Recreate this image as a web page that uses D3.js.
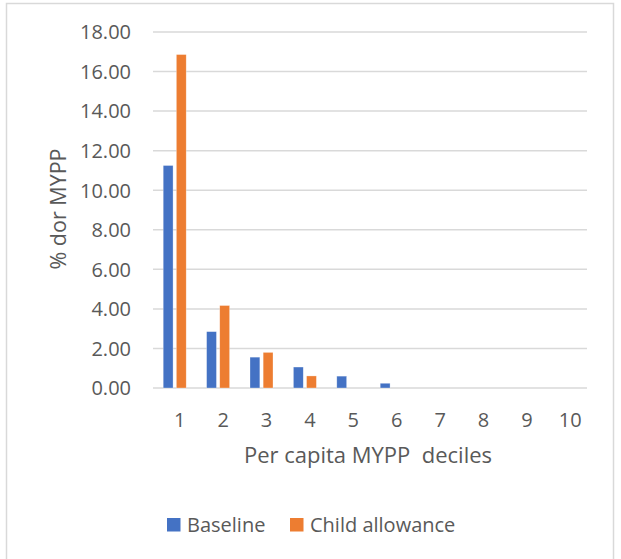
<!DOCTYPE html>
<html>
<head>
<meta charset="utf-8">
<script src="https://cdn.jsdelivr.net/npm/d3@7"></script>
<style>
  html, body { margin: 0; padding: 0; background: #fff; }
  svg { display: block; }
  text { font-family: "Open Sans", "Noto Sans", sans-serif; fill: #595959; }
</style>
</head>
<body>
<svg id="chart" width="621" height="559"></svg>
<script>
// Deciles of per capita MYPP
const deciles = ["1", "2", "3", "4", "5", "6", "7", "8", "9", "10"];
// Share (%) under each scenario
const baseline = [11.25, 2.85, 1.56, 1.06, 0.60, 0.24, 0, 0, 0, 0];
const childAllowance = [16.86, 4.17, 1.80, 0.61, 0, 0, 0, 0, 0, 0];
const seriesNames = ["Baseline", "Child allowance"];
const seriesColors = ["#4472C4", "#ED7D31"];
const yTicks = [0, 2, 4, 6, 8, 10, 12, 14, 16, 18];

const FONT = "'Open Sans', 'Noto Sans', sans-serif";
const svg = d3.select("#chart");

// outer frame
svg.append("rect")
  .attr("x", 6.5).attr("y", 3.5)
  .attr("width", 607).attr("height", 570)
  .attr("fill", "#fff").attr("stroke", "#d9d9d9").attr("stroke-width", 1.5);

const plot = { left: 153, right: 587, top: 32, bottom: 388 };

const x = d3.scaleBand().domain(deciles).range([plot.left, plot.right]).padding(0);
const xs = d3.scaleBand().domain(seriesNames).range([-11.5, 11.5]).paddingInner(0.25);
const y = d3.scaleLinear().domain([0, 18]).range([plot.bottom, plot.top]);

// horizontal gridlines
svg.append("g").selectAll("line")
  .data(yTicks).join("line")
  .attr("x1", plot.left).attr("x2", plot.right)
  .attr("y1", d => y(d)).attr("y2", d => y(d))
  .attr("stroke", "#d9d9d9").attr("stroke-width", 1.5);

// y tick labels
const yAxis = d3.axisLeft(y).tickValues(yTicks).tickFormat(d3.format(".2f")).tickSize(0).tickPadding(0);
const yg = svg.append("g").attr("transform", "translate(131,0)").call(yAxis);
yg.select(".domain").remove();
yg.selectAll("text").attr("font-size", 20).attr("dy", "0.34em")
  .style("fill", "#595959").style("font-family", FONT);

// bars
const rows = deciles.map((d, i) => ({ decile: d, values: [baseline[i], childAllowance[i]] }));
const groups = svg.append("g").selectAll("g")
  .data(rows).join("g")
  .attr("transform", d => `translate(${x(d.decile) + x.bandwidth() / 2},0)`);
groups.selectAll("rect")
  .data(d => d.values.map((v, j) => ({ name: seriesNames[j], value: v, color: seriesColors[j] })))
  .join("rect")
  .filter(d => d.value > 0)
  .attr("x", d => xs(d.name))
  .attr("width", xs.bandwidth())
  .attr("y", d => y(d.value))
  .attr("height", d => y(0) - y(d.value))
  .attr("fill", d => d.color)
  .attr("stroke", "#fff").attr("stroke-opacity", 0.5).attr("stroke-width", 0.6);

// x tick labels
const xAxis = d3.axisBottom(x).tickSize(0).tickPadding(0);
const xg = svg.append("g").attr("transform", "translate(5,427)").call(xAxis);
xg.select(".domain").remove();
xg.selectAll("text").attr("font-size", 20).attr("dy", 0)
  .style("fill", "#595959").style("font-family", FONT);

// axis titles
svg.append("text")
  .attr("x", 368).attr("y", 463)
  .attr("text-anchor", "middle").attr("font-size", 22)
  .style("white-space", "pre")
  .text("Per capita MYPP  deciles");

svg.append("text")
  .attr("transform", "translate(66,209) rotate(-90)")
  .attr("text-anchor", "middle").attr("font-size", 21.5)
  .text("% dor MYPP");

// legend
const legend = svg.append("g").attr("transform", "translate(0,525)");
const legendItems = [
  { name: seriesNames[0], color: seriesColors[0], x: 167 },
  { name: seriesNames[1], color: seriesColors[1], x: 290 }
];
const li = legend.selectAll("g").data(legendItems).join("g")
  .attr("transform", d => `translate(${d.x},0)`);
li.append("rect").attr("x", 0).attr("y", -7).attr("width", 13.5).attr("height", 13.5)
  .attr("fill", d => d.color);
li.append("text").attr("x", 20).attr("y", 7).attr("font-size", 20).text(d => d.name);
</script>
</body>
</html>
